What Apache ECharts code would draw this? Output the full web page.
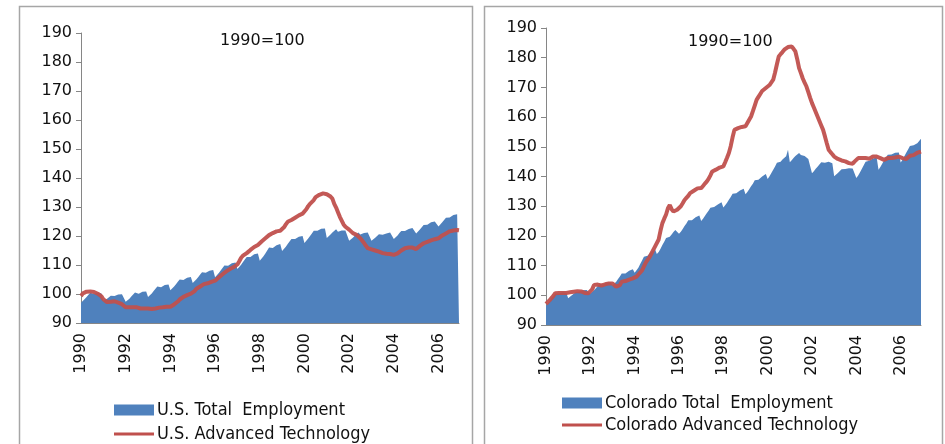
<!DOCTYPE html>
<html>
<head>
<meta charset="utf-8">
<script src="https://cdn.jsdelivr.net/npm/echarts@6/dist/echarts.min.js"></script>
<style>
  html, body { margin: 0; padding: 0; background: #fff; }
  #chart { width: 945px; height: 444px; }
</style>
</head>
<body>
<div id="chart"></div>
<script>
// 年份（每年12个月）
const years = [1990, 1991, 1992, 1993, 1994, 1995, 1996, 1997, 1998, 1999, 2000, 2001, 2002, 2003, 2004, 2005, 2006];
const yTicks = [90, 100, 110, 120, 130, 140, 150, 160, 170, 180, 190];

// U.S. total employment, 1990=100 (monthly, not seasonally adjusted)
const usTotal = [
  97.0, 97.6, 98.3, 99.0, 99.7, 100.4, 99.8, 100.0, 100.3, 100.5, 100.4, 100.2,
  97.6, 97.9, 98.4, 98.9, 99.4, 99.9, 99.3, 99.5, 99.8, 99.9, 99.9, 99.8,
  97.3, 97.8, 98.4, 99.1, 99.8, 100.5, 99.9, 100.1, 100.5, 100.8, 100.8, 100.9,
  99.0, 99.5, 100.2, 101.0, 101.8, 102.6, 102.0, 102.3, 102.8, 103.1, 103.2, 103.3,
  101.3, 101.8, 102.6, 103.4, 104.2, 105.0, 104.4, 104.8, 105.3, 105.6, 105.8, 105.9,
  103.8, 104.3, 105.1, 105.9, 106.7, 107.5, 107.0, 107.3, 107.7, 108.0, 108.2, 108.3,
  105.8, 106.4, 107.2, 108.1, 109.0, 109.8, 109.3, 109.7, 110.2, 110.6, 110.8, 110.9,
  108.6, 109.2, 110.1, 111.0, 111.9, 112.8, 112.3, 112.8, 113.3, 113.7, 113.9, 114.0,
  111.5, 112.1, 113.0, 114.0, 115.0, 116.0, 115.4, 115.9, 116.4, 116.8, 117.0, 117.2,
  114.8, 115.4, 116.3, 117.2, 118.1, 119.0, 118.5, 119.0, 119.4, 119.7, 119.9, 120.0,
  117.6, 118.2, 119.1, 120.0, 120.9, 121.8, 121.3, 121.8, 122.2, 122.5, 122.6, 122.6,
  119.3, 119.8, 120.5, 121.2, 121.8, 122.3, 121.5, 121.7, 121.9, 122.0, 121.9, 121.7,
  118.4, 118.8, 119.4, 120.1, 120.7, 121.2, 120.5, 120.7, 121.0, 121.2, 121.2, 121.1,
  118.4, 118.8, 119.4, 120.0, 120.6, 121.0, 120.4, 120.6, 120.9, 121.1, 121.2, 121.3,
  119.0, 119.5, 120.2, 121.0, 121.7, 122.3, 121.7, 122.0, 122.4, 122.7, 122.8, 122.9,
  120.9, 121.4, 122.2, 123.0, 123.8, 124.4, 123.9, 124.3, 124.7, 124.9, 125.0, 125.1,
  123.3, 123.9, 124.7, 125.5, 126.3, 126.9, 126.4, 126.8, 127.2, 127.4, 127.5, 127.6
];

// U.S. advanced technology employment, 1990=100
const usTech = [
  99.3, 100.2, 100.6, 100.8, 101.0, 100.9, 101.0, 100.7, 100.4, 100.1, 99.9, 99.2,
  98.2, 97.6, 97.2, 97.0, 97.3, 97.6, 97.5, 97.4, 97.0, 96.6, 96.5, 96.0,
  95.4, 95.3, 95.4, 95.6, 95.4, 95.3, 95.4, 95.2, 95.0, 95.1, 95.0, 95.0,
  95.0, 94.9, 94.8, 94.8, 95.0, 95.3, 95.3, 95.2, 95.4, 95.5, 95.6, 95.6,
  95.6, 95.9, 96.4, 96.8, 97.4, 98.1, 98.6, 99.0, 99.3, 99.6, 99.9, 100.1,
  100.3, 101.0, 101.8, 102.4, 102.6, 103.0, 103.4, 103.5, 103.7, 104.0, 104.2, 104.4,
  104.6, 105.2, 105.7, 106.1, 106.8, 107.3, 107.8, 108.2, 108.6, 109.0, 109.3, 109.5,
  110.2, 111.3, 112.5, 113.2, 113.6, 114.1, 114.7, 115.2, 115.8, 116.2, 116.6, 116.9,
  117.4, 118.1, 118.7, 119.2, 119.8, 120.3, 120.9, 121.0, 121.3, 121.6, 121.7, 121.8,
  122.0, 123.0, 124.0, 124.9, 125.2, 125.5, 126.0, 126.3, 126.8, 127.1, 127.4, 127.7,
  128.2, 129.2, 130.3, 131.1, 131.6, 132.4, 133.4, 133.8, 134.2, 134.5, 134.7, 134.6,
  134.4, 134.3, 133.6, 132.9, 131.1, 129.8, 128.2, 126.6, 125.3, 124.0, 123.2, 122.6,
  122.2, 121.6, 121.0, 120.9, 120.4, 119.9, 119.2, 118.7, 117.6, 116.6, 115.8, 115.5,
  115.4, 115.2, 115.0, 114.8, 114.6, 114.4, 114.1, 114.0, 113.9, 113.8, 113.8, 113.6,
  113.5, 113.5, 114.0, 114.6, 115.0, 115.3, 115.8, 116.0, 116.0, 116.1, 116.0, 115.7,
  115.5, 115.8, 116.6, 117.2, 117.5, 117.6, 118.0, 118.3, 118.5, 118.6, 118.9, 119.1,
  119.2, 119.6, 120.2, 120.8, 120.9, 121.3, 121.6, 121.8, 121.9, 122.0, 122.1, 122.0
];

// Colorado total employment, 1990=100
const coTotal = [
  96.5, 97.2, 98.0, 99.0, 99.8, 100.6, 100.4, 100.6, 100.8, 101.0, 101.0, 100.9,
  99.0, 99.4, 100.0, 100.6, 101.0, 101.6, 101.3, 101.5, 101.7, 101.8, 101.8, 101.7,
  100.6, 101.0, 101.7, 102.4, 103.0, 103.8, 103.4, 103.7, 104.0, 104.3, 104.4, 104.4,
  103.3, 103.8, 104.6, 105.5, 106.3, 107.3, 106.9, 107.3, 107.8, 108.3, 108.6, 108.8,
  107.6, 108.2, 109.3, 110.5, 111.7, 113.0, 112.7, 113.3, 114.0, 114.7, 115.2, 115.5,
  113.9, 114.6, 115.7, 116.9, 118.0, 119.3, 119.0, 119.7, 120.5, 121.3, 122.0, 122.5,
  120.7, 121.4, 122.3, 123.3, 124.2, 125.3, 124.9, 125.3, 125.8, 126.3, 126.6, 126.9,
  125.0, 125.8, 126.7, 127.6, 128.5, 129.5, 129.2, 129.7, 130.2, 130.6, 131.0, 131.3,
  129.6, 130.3, 131.2, 132.2, 133.1, 134.2, 133.9, 134.4, 134.9, 135.3, 135.6, 135.9,
  134.0, 134.8, 135.7, 136.7, 137.6, 138.7, 138.4, 138.9, 139.5, 140.0, 140.4, 140.8,
  139.2, 140.1, 141.2, 142.3, 143.4, 144.6, 144.4, 145.0, 145.7, 146.3, 146.8, 149.0,
  144.8, 145.5, 146.2, 146.9, 147.4, 147.9, 147.2, 147.3, 146.9, 146.5, 145.9, 145.3,
  141.1, 141.8, 142.6, 143.3, 144.0, 144.8, 144.3, 144.6, 144.8, 145.0, 144.8, 144.5,
  140.1, 140.6, 141.2, 141.8, 142.4, 143.0, 142.5, 142.7, 142.8, 142.9, 142.7, 142.6,
  139.5, 140.3, 141.4, 142.6, 143.8, 145.0, 144.8, 145.3, 145.7, 146.1, 146.3, 146.4,
  142.3, 143.2, 144.3, 145.4, 146.3, 147.3, 147.0, 147.4, 147.7, 148.0, 148.1, 148.1,
  144.7, 145.6, 146.8, 148.0, 149.1, 150.3, 150.0, 150.5, 150.9, 151.2, 151.3, 152.7
];

// Colorado advanced technology employment, 1990=100
const coTech = [
  97.1, 97.6, 98.4, 99.0, 99.8, 100.7, 100.9, 100.8, 101.0, 100.8, 100.9, 100.8,
  100.9, 101.0, 100.8, 101.2, 101.5, 101.4, 101.5, 101.3, 101.0, 100.8, 101.1, 100.7,
  100.7, 102.0, 103.5, 103.4, 103.6, 103.5, 103.3, 103.5, 103.7, 103.9, 104.0, 104.0,
  104.0, 103.5, 102.9, 103.0, 103.4, 104.6, 104.2, 104.8, 105.0, 105.3, 105.5, 105.7,
  105.7, 106.3, 107.0, 107.4, 108.4, 109.7, 111.0, 111.9, 112.8, 114.0, 115.2, 116.4,
  116.4, 118.8, 121.8, 124.3, 125.8, 127.2, 129.3, 130.4, 129.0, 128.2, 128.8, 128.8,
  128.8, 130.0, 131.0, 132.1, 132.8, 133.5, 134.4, 134.8, 135.2, 135.6, 136.0, 136.1,
  136.1, 136.8, 137.6, 138.3, 139.2, 140.4, 141.7, 142.0, 142.3, 142.6, 143.0, 143.4,
  143.4, 144.8, 146.3, 147.9, 150.2, 153.2, 155.7, 156.0, 156.3, 156.5, 156.7, 156.9,
  156.9, 158.0, 159.1, 160.2, 162.0, 163.9, 165.8, 166.8, 167.8, 168.8, 169.3, 169.8,
  169.8, 170.8, 171.7, 172.6, 175.0, 177.8, 180.4, 181.2, 181.9, 182.7, 183.2, 183.6,
  184.0, 183.8, 183.0, 182.1, 179.5, 176.5, 174.8, 173.0, 171.6, 170.3, 168.4, 166.5,
  164.7, 163.2, 161.7, 160.2, 158.7, 157.2, 155.7, 153.5, 151.2, 149.0, 148.2, 147.5,
  146.7, 146.3, 145.9, 145.6, 145.4, 145.2, 145.1, 144.9, 144.5, 143.9, 144.3, 145.0,
  145.6, 146.2, 146.4, 146.2, 145.9, 146.2, 146.4, 146.0, 146.4, 146.7, 146.3, 146.7,
  146.7, 146.2, 145.9, 145.6, 145.8, 146.2, 146.5, 146.2, 146.0, 146.4, 146.6, 146.7,
  146.7, 146.2, 145.8, 145.9, 146.4, 147.0, 147.3, 147.2, 147.6, 148.0, 148.3, 148.4
];

const BLUE = '#4F81BD';
const RED = '#C0504D';
const AXIS = '#868686';
const FONT = 'DejaVu Sans';
const LEGEND_FONT = 'DejaVu Sans Condensed, Liberation Sans Narrow, Liberation Sans';

let months = [];
years.forEach((y) => {
  for (let m = 1; m <= 12; m++) months.push(y + '-' + m);
});

function xAxisFor(idx) {
  return {
    type: 'category',
    gridIndex: idx,
    data: months,
    boundaryGap: false,
    axisLine: { lineStyle: { color: AXIS } },
    axisTick: { show: false },
    axisLabel: {
      rotate: 90,
      margin: 10,
      color: '#111',
      fontFamily: FONT,
      fontSize: 16,
      interval: (i) => i % 24 === 0,
      formatter: (v) => v.slice(0, 4)
    },
    splitLine: { show: false }
  };
}

function yAxisFor(idx) {
  return {
    type: 'value',
    gridIndex: idx,
    min: yTicks[0],
    max: yTicks[yTicks.length - 1],
    interval: 10,
    axisLine: { show: true, lineStyle: { color: AXIS } },
    axisTick: { show: true, length: 5, lineStyle: { color: AXIS } },
    axisLabel: { color: '#111', fontFamily: FONT, fontSize: 16, margin: 9 },
    splitLine: { show: false }
  };
}

function areaSeries(name, data, idx) {
  return {
    name: name,
    type: 'line',
    xAxisIndex: idx,
    yAxisIndex: idx,
    data: data,
    symbol: 'none',
    lineStyle: { width: 0 },
    itemStyle: { color: BLUE },
    areaStyle: { color: BLUE, opacity: 1 },
    z: 2
  };
}

function lineSeries(name, data, idx) {
  return {
    name: name,
    type: 'line',
    xAxisIndex: idx,
    yAxisIndex: idx,
    data: data,
    symbol: 'none',
    itemStyle: { color: RED },
    lineStyle: { color: RED, width: 4, opacity: 0.95 },
    z: 3
  };
}

function legendFor(name, left, top, h) {
  return {
    data: [{ name: name, icon: 'rect' }],
    left: left,
    top: top,
    itemWidth: 40,
    itemHeight: h,
    itemGap: 0,
    padding: 0,
    selectedMode: false,
    textStyle: { color: '#111', fontFamily: LEGEND_FONT, fontSize: 18, padding: [0, 0, 0, -2] }
  };
}

let myChart = echarts.init(document.getElementById('chart'), null, { renderer: 'canvas' });
myChart.setOption({
  animation: false,
  backgroundColor: '#fff',
  title: [
    { text: '1990=100', left: 220, top: 33, textStyle: { fontFamily: FONT, fontSize: 16, fontWeight: 'normal', color: '#111' }, padding: 0 },
    { text: '1990=100', left: 688, top: 34, textStyle: { fontFamily: FONT, fontSize: 16, fontWeight: 'normal', color: '#111' }, padding: 0 }
  ],
  legend: [
    legendFor('U.S. Total  Employment', 114, 401, 11),
    legendFor('U.S. Advanced Technology', 114, 425, 3),
    legendFor('Colorado Total  Employment', 562, 394, 11),
    legendFor('Colorado Advanced Technology', 562, 416, 3)
  ],
  grid: [
    { left: 81, top: 33, width: 378, height: 290 },
    { left: 546, top: 28, width: 375, height: 297 }
  ],
  xAxis: [xAxisFor(0), xAxisFor(1)],
  yAxis: [yAxisFor(0), yAxisFor(1)],
  series: [
    areaSeries('U.S. Total  Employment', usTotal, 0),
    lineSeries('U.S. Advanced Technology', usTech, 0),
    areaSeries('Colorado Total  Employment', coTotal, 1),
    lineSeries('Colorado Advanced Technology', coTech, 1)
  ],
  graphic: [
    { type: 'rect', shape: { x: 19.5, y: 6.5, width: 453, height: 460 }, style: { fill: 'none', stroke: '#a6a6a6', lineWidth: 1.5 }, silent: true },
    { type: 'rect', shape: { x: 484.5, y: 6.5, width: 458, height: 460 }, style: { fill: 'none', stroke: '#a6a6a6', lineWidth: 1.5 }, silent: true }
  ]
});
</script>
</body>
</html>
